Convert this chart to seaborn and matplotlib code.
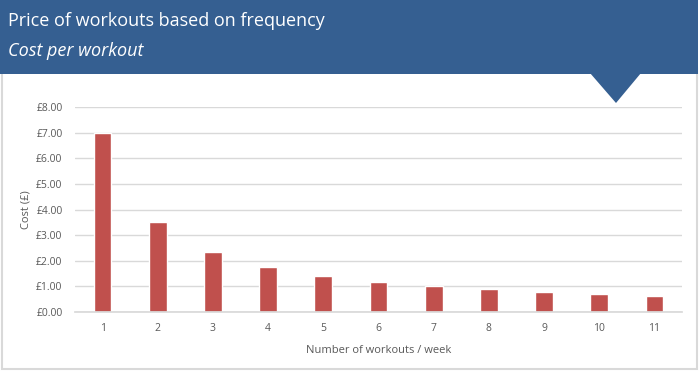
import numpy as np
import pandas as pd
import matplotlib
matplotlib.use("Agg")
import matplotlib.pyplot as plt
import seaborn as sns
from matplotlib.patches import Rectangle, Polygon

# --- DATA ---
workouts = [1, 2, 3, 4, 5, 6, 7, 8, 9, 10, 11]
cost = [7.00, 3.50, 2.33, 1.75, 1.40, 1.17, 1.00, 0.88, 0.78, 0.70, 0.64]
y_ticks = [0, 1, 2, 3, 4, 5, 6, 7, 8]

TITLE = "Price of workouts based on frequency"
SUBTITLE = "Cost per workout"
BANNER = "#355f91"
BAR = "#c0504d"
GRID = "#d9d9d9"
TEXT = "#595959"

sns.set_theme(style="white")
plt.rcParams['font.family'] = ['Open Sans', 'DejaVu Sans']

df = pd.DataFrame({"workouts": workouts, "cost": cost})

W, H = 700, 371
fig = plt.figure(figsize=(W / 100, H / 100), dpi=100)

# outer frame of the white panel
fig.patches.append(Rectangle((2 / W, 2 / H), 695 / W, 300 / H, transform=fig.transFigure,
                             facecolor="white", edgecolor=GRID, linewidth=1.5, zorder=-2))
# header banner + pointer
fig.patches.append(Rectangle((0, 1 - 74 / H), 698 / W, 74 / H, transform=fig.transFigure,
                             facecolor=BANNER, edgecolor="none", zorder=-1))
fig.patches.append(Polygon([(590 / W, 1 - 73 / H), (641 / W, 1 - 73 / H), (616 / W, 1 - 103 / H)],
                           closed=True, transform=fig.transFigure,
                           facecolor=BANNER, edgecolor="none", zorder=-1))

title_font = ['Liberation Sans Narrow', 'Open Sans', 'DejaVu Sans']
fig.text(8 / W, 1 - 21 / H, TITLE, color="white", fontsize=13, va="center", ha="left",
         family=title_font)
fig.text(8 / W, 1 - 51 / H, SUBTITLE, color="white", fontsize=13, va="center", ha="left",
         style="italic", family=title_font)

ax = fig.add_axes([75 / W, 59 / H, 607 / W, 205 / H])
ax.set_zorder(3)
sns.barplot(data=df, x="workouts", y="cost", color=BAR, width=0.32, saturation=1, ax=ax)

ax.set_ylim(0, 8)
ax.set_yticks(y_ticks)
ax.set_yticklabels([f"£{v:.2f}" for v in y_ticks])
ax.yaxis.grid(True, color=GRID, linewidth=1)
ax.set_axisbelow(True)
for s in ["top", "right", "left"]:
    ax.spines[s].set_visible(False)
ax.spines["bottom"].set_color(GRID)
ax.tick_params(axis="both", length=0, labelsize=7.5, colors=TEXT)
ax.tick_params(axis="x", pad=8)
ax.tick_params(axis="y", pad=9)
ax.set_xlabel("Number of workouts / week", fontsize=8, color=TEXT, labelpad=8)
ax.set_ylabel("Cost (£)", fontsize=8, color=TEXT, labelpad=3)
ax.patch.set_alpha(0)

fig.savefig("out.png", dpi=100)
